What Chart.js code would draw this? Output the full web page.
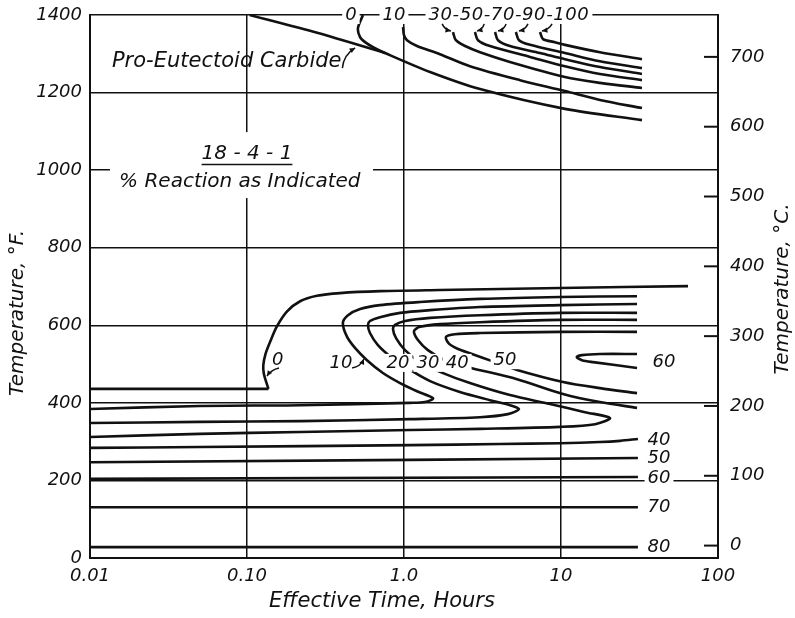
<!DOCTYPE html>
<html>
<head>
<meta charset="utf-8">
<script src="https://cdn.jsdelivr.net/npm/chart.js@4.4.1/dist/chart.umd.min.js"></script>
<style>
  html, body { margin: 0; padding: 0; background: #fff; }
  #wrap { width: 795px; height: 618px; }
</style>
</head>
<body>
<div id="wrap"><canvas id="c" width="795" height="618"></canvas></div>
<script>
// ---- axis ticks ----
const timeTicks = [0.01, 0.1, 1, 10, 100];
const timeTickLabels = ['0.01', '0.10', '1.0', '10', '100'];
const tempTicksF = [0, 200, 400, 600, 800, 1000, 1200, 1400];
const tempTicksC = [0, 100, 200, 300, 400, 500, 600, 700];

// ---- curves: [effective time (hours), temperature (°F)] ----
// pro-eutectoid carbide start
const carbideStart = [[0.104, 1400], [0.28, 1354], [0.757, 1302]];
// pearlite reaction, % as labelled
const pearlite0 = [[0.548, 1400], [0.509, 1366], [0.525, 1343], [0.565, 1330], [0.635, 1317], [0.757, 1302], [1.466, 1253], [3.05, 1209], [10.6, 1158], [32.8, 1129]];
const pearlite10 = [[0.986, 1369], [1.0, 1348], [1.045, 1335], [1.21, 1320], [1.694, 1299], [2.63, 1268], [5.48, 1232], [10.6, 1204], [17.7, 1181], [32.8, 1160]];
const pearlite30 = [[2.05, 1356], [2.14, 1335], [2.45, 1320], [3.05, 1304], [4.73, 1279], [10.6, 1240], [17.7, 1225], [32.8, 1212]];
const pearlite50 = [[2.83, 1356], [2.96, 1335], [3.53, 1320], [6.35, 1292], [10.6, 1268], [17.7, 1248], [32.8, 1232]];
const pearlite70 = [[3.80, 1356], [3.97, 1335], [4.73, 1320], [7.35, 1302], [10.6, 1286], [17.7, 1266], [32.8, 1248]];
const pearlite90 = [[5.16, 1356], [5.40, 1335], [6.35, 1323], [10.6, 1302], [17.7, 1281], [32.8, 1263]];
const pearlite100 = [[7.35, 1356], [7.68, 1338], [9.16, 1330], [10.6, 1323], [17.7, 1304], [32.8, 1286]];

// bainite / martensite reaction, % as labelled
const lower0Flat = [[0.01, 436], [0.137, 436]];
const lower0 = [[0.137, 436], [0.133, 452], [0.128, 475], [0.127, 497], [0.131, 525], [0.14, 556], [0.155, 597], [0.18, 636], [0.218, 662], [0.279, 676], [0.391, 683], [0.703, 688], [1.694, 691], [9.86, 696], [64.4, 701]];
const lower10 = [[30.5, 675], [9.86, 673], [3.05, 668], [1.264, 660], [0.703, 652], [0.525, 642], [0.44, 626], [0.408, 606], [0.434, 570], [0.489, 541], [0.581, 510], [0.734, 477], [0.944, 451], [1.21, 430], [1.531, 412], [1.36, 402], [1.09, 400], [0.218, 394], [0.05, 392], [0.01, 384]];
const lower20 = [[30.5, 655], [9.86, 652], [3.05, 647], [1.466, 639], [0.944, 632], [0.703, 621], [0.607, 611], [0.59, 601], [0.607, 580], [0.682, 549], [0.84, 516], [1.092, 485], [1.466, 456], [2.27, 428], [3.53, 407], [4.73, 394], [5.40, 384], [4.59, 371], [3.05, 363], [1.092, 358], [0.218, 353], [0.05, 351], [0.01, 348]];
const lower30 = [[30.5, 632], [9.86, 632], [3.05, 626], [1.466, 619], [1.015, 611], [0.877, 601], [0.851, 590], [0.89, 567], [1.015, 536], [1.264, 505], [1.694, 480], [2.63, 451], [4.73, 420], [8.51, 397], [14.2, 376], [20.5, 361], [16.5, 345], [9.86, 338], [3.05, 333], [1.092, 330], [0.218, 325], [0.05, 320], [0.01, 312]];
const lower40 = [[30.5, 614], [9.86, 614], [3.05, 608], [1.694, 603], [1.264, 596], [1.158, 585], [1.227, 562], [1.42, 536], [1.82, 510], [2.56, 492], [5.25, 461], [10.3, 423], [17.7, 402], [30.5, 387]];
const lower50 = [[30.5, 583], [9.86, 583], [3.05, 580], [2.11, 577], [1.85, 570], [1.94, 552], [2.21, 539], [2.63, 528], [3.80, 505], [5.25, 485], [10.3, 454], [17.7, 438], [30.5, 425]];
const lower60 = [[30.5, 526], [17.7, 526], [13.6, 523], [12.6, 518], [13.6, 510], [16.0, 505], [30.5, 490]];
const mart40 = [[0.01, 284], [0.05, 286], [1.092, 291], [4.08, 294], [9.86, 296], [17.7, 299], [23.8, 302], [30.9, 307]];
const mart50 = [[0.01, 247], [1.092, 253], [30.9, 258]];
const mart60 = [[0.01, 204], [30.9, 209]];
const mart70 = [[0.01, 131], [30.9, 131]];
const mart80 = [[0.01, 28], [30.9, 28]];

const curvedLines = [carbideStart, pearlite0, pearlite10, pearlite30, pearlite50, pearlite70, pearlite90, pearlite100,
  lower0, lower10, lower20, lower30, lower40, lower50, lower60, mart40];
const straightLines = [lower0Flat, mart50, mart60, mart70, mart80];

// ---- text set on the plot, positioned in (hours, °F) ----
const notes = [
  { text: 'Pro-Eutectoid Carbide', at: [0.0138, 1279], align: 'left', size: 21 },
  { text: '18 - 4 - 1', at: [0.100, 1043], size: 20, underline: true },
  { text: '% Reaction as Indicated', at: [0.090, 969], size: 20 },
  { text: '0', at: [0.459, 1400], size: 18, box: true },
  { text: '10', at: [0.863, 1400], size: 18, box: true },
  { text: '30-50-70-90-100', at: [4.66, 1400], size: 18, box: true, spacing: 0.6 },
  { text: '0', at: [0.157, 510], size: 18, box: true },
  { text: '10', at: [0.397, 503], size: 18, box: true },
  { text: '20', at: [0.916, 503], size: 18, box: true },
  { text: '30', at: [1.42, 503], size: 18, box: true },
  { text: '40', at: [2.18, 503], size: 18, box: true },
  { text: '50', at: [4.40, 510], size: 18, box: true },
  { text: '60', at: [45.3, 505], size: 18 },
  { text: '40', at: [42.1, 304], size: 18 },
  { text: '50', at: [42.1, 258], size: 18 },
  { text: '60', at: [42.1, 206], size: 18, box: true },
  { text: '70', at: [42.1, 131], size: 18 },
  { text: '80', at: [42.1, 28], size: 18 }
];
// blank area behind the alloy caption
const captionClear = [[0.0134, 1098], [0.635, 928]];
// leader arrows: from -> to
const leaders = [
  { from: [0.405, 1263], to: [0.488, 1315], bend: -6 },
  { from: [0.160, 490], to: [0.134, 469], bend: 3 },
  { from: [0.467, 490], to: [0.556, 513], bend: 4 },
  { from: [1.75, 1377], to: [1.99, 1359], bend: 3 },
  { from: [3.24, 1377], to: [2.92, 1359], bend: -3 },
  { from: [4.47, 1377], to: [3.97, 1359], bend: -3 },
  { from: [6.16, 1377], to: [5.40, 1359], bend: -3 },
  { from: [8.77, 1377], to: [7.57, 1359], bend: -3 }
];

const INK = '#111';
const FAMILY = '"DejaVu Sans", "Liberation Sans", sans-serif';

function toPt(arr) { return arr.map(([h, t]) => ({ x: h, y: t })); }

const datasets = [];
curvedLines.forEach(c => datasets.push({ data: toPt(c), showLine: true, borderColor: INK, borderWidth: 2.6, pointRadius: 0, tension: 0.3, fill: false }));
straightLines.forEach(c => datasets.push({ data: toPt(c), showLine: true, borderColor: INK, borderWidth: 2.6, pointRadius: 0, tension: 0, fill: false }));

function setSpacing(ctx, v) { if ('letterSpacing' in ctx) ctx.letterSpacing = v + 'px'; }

const overlay = {
  id: 'overlay',
  afterDatasetsDraw(chart) {
    const { ctx, chartArea: a } = chart;
    const sx = chart.scales.x, sy = chart.scales.y, sc = chart.scales.yC;
    const P = ([h, t]) => [sx.getPixelForValue(h), sy.getPixelForValue(t)];
    ctx.save();

    // inner tick marks of the °C scale
    ctx.strokeStyle = INK; ctx.lineWidth = 2;
    tempTicksC.forEach(c => {
      const y = sc.getPixelForValue(c);
      ctx.beginPath(); ctx.moveTo(a.right - 14, y); ctx.lineTo(a.right, y); ctx.stroke();
    });

    // caption blank
    const c0 = P(captionClear[0]), c1 = P(captionClear[1]);
    ctx.fillStyle = '#fff';
    ctx.fillRect(c0[0], c0[1], c1[0] - c0[0], c1[1] - c0[1]);

    // labels
    ctx.textBaseline = 'middle';
    notes.forEach(n => {
      const [x, y] = P(n.at);
      ctx.font = 'italic ' + n.size + 'px ' + FAMILY;
      setSpacing(ctx, n.spacing || 0);
      ctx.textAlign = n.align || 'center';
      const w = ctx.measureText(n.text).width;
      const left = ctx.textAlign === 'left' ? x : x - w / 2;
      if (n.box) {
        ctx.fillStyle = '#fff';
        ctx.fillRect(left - 3, y - n.size * 0.5, w + 6, n.size);
      }
      ctx.fillStyle = INK;
      ctx.fillText(n.text, x, y);
      if (n.underline) {
        ctx.strokeStyle = INK; ctx.lineWidth = 1.6;
        ctx.beginPath(); ctx.moveTo(left, y + n.size * 0.55); ctx.lineTo(left + w, y + n.size * 0.55); ctx.stroke();
      }
    });
    setSpacing(ctx, 0);

    // leader arrows
    ctx.strokeStyle = INK; ctx.fillStyle = INK; ctx.lineWidth = 1.5;
    leaders.forEach(l => {
      const [x0, y0] = P(l.from), [x1, y1] = P(l.to);
      const mx = (x0 + x1) / 2, my = (y0 + y1) / 2;
      const dx = x1 - x0, dy = y1 - y0, len = Math.hypot(dx, dy) || 1;
      const cx = mx + (-dy / len) * l.bend, cy = my + (dx / len) * l.bend;
      ctx.beginPath(); ctx.moveTo(x0, y0); ctx.quadraticCurveTo(cx, cy, x1, y1); ctx.stroke();
      const ang = Math.atan2(y1 - cy, x1 - cx);
      ctx.beginPath();
      ctx.moveTo(x1, y1);
      ctx.lineTo(x1 - 6 * Math.cos(ang - 0.45), y1 - 6 * Math.sin(ang - 0.45));
      ctx.lineTo(x1 - 6 * Math.cos(ang + 0.45), y1 - 6 * Math.sin(ang + 0.45));
      ctx.closePath(); ctx.fill();
    });
    ctx.restore();
  },
  afterDraw(chart) {
    const { ctx } = chart;
    ctx.save();
    ctx.fillStyle = INK;
    ctx.textAlign = 'center'; ctx.textBaseline = 'middle';
    ctx.font = 'italic 21px ' + FAMILY;
    ctx.fillText('Effective Time, Hours', 382, 602);
    ctx.font = 'italic 20px ' + FAMILY;
    ctx.save();
    ctx.translate(18, 313); ctx.rotate(-Math.PI / 2);
    ctx.fillText('Temperature, °F.', 0, 0);
    ctx.restore();
    ctx.save();
    ctx.translate(783, 289); ctx.rotate(-Math.PI / 2);
    ctx.fillText('Temperature, °C.', 0, 0);
    ctx.restore();
    ctx.restore();
  }
};

const tickFont = { family: FAMILY, size: 18, style: 'italic' };
// vertical axes: fixed width, no extra room reserved for overhanging end labels
const fitVertical = w => s => { s.width = w; s.paddingTop = 0; s.paddingBottom = 0; };

new Chart(document.getElementById('c'), {
  type: 'scatter',
  data: { datasets },
  options: {
    responsive: false,
    animation: false,
    devicePixelRatio: 1,
    layout: { padding: { top: 15, left: 0, right: 0, bottom: 0 } },
    plugins: { legend: { display: false }, tooltip: { enabled: false } },
    scales: {
      x: {
        type: 'logarithmic', min: 0.01, max: 100,
        afterBuildTicks: s => { s.ticks = timeTicks.map(v => ({ value: v })); },
        afterFit: s => { s.height = 60; },
        ticks: { callback: (v, i) => timeTickLabels[i], font: tickFont, color: INK, padding: 8, maxRotation: 0, autoSkip: false },
        grid: { color: INK, lineWidth: 1.5, drawTicks: false },
        border: { color: INK, width: 2 }
      },
      y: {
        type: 'linear', position: 'left', min: 0, max: 1400,
        afterBuildTicks: s => { s.ticks = tempTicksF.map(v => ({ value: v })); },
        afterFit: fitVertical(90),
        ticks: { callback: v => String(v), font: tickFont, color: INK, padding: 8 },
        grid: { color: INK, lineWidth: 1.5, drawTicks: false },
        border: { color: INK, width: 2 }
      },
      yC: {
        type: 'linear', position: 'right', min: -160 / 9, max: 760,
        afterBuildTicks: s => { s.ticks = tempTicksC.map(v => ({ value: v })); },
        afterFit: fitVertical(77),
        ticks: { callback: v => String(v), font: tickFont, color: INK, padding: 12 },
        grid: { drawOnChartArea: false, drawTicks: false },
        border: { color: INK, width: 2 }
      }
    }
  },
  plugins: [overlay]
});
</script>
</body>
</html>
